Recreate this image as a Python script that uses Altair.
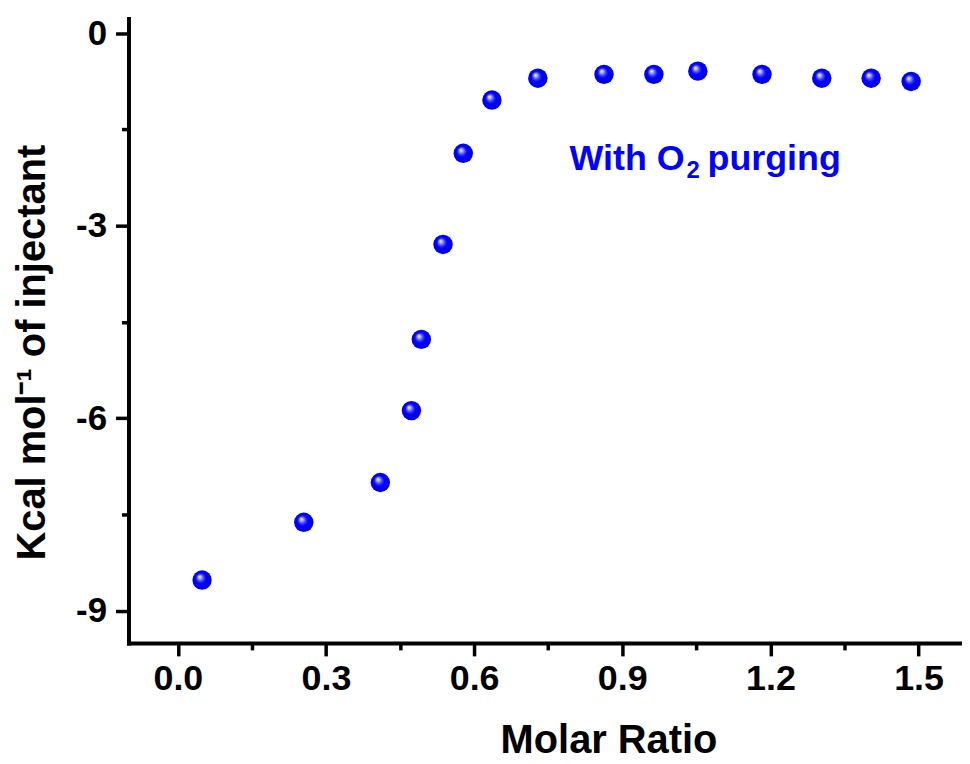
import altair as alt
import pandas as pd

# ---- data ----
molar_ratio = [0.049, 0.255, 0.410, 0.473, 0.493, 0.537, 0.578, 0.636,
               0.729, 0.863, 0.964, 1.053, 1.183, 1.304, 1.404, 1.485]
kcal = [-8.52, -7.62, -7.00, -5.88, -4.77, -3.29, -1.87, -1.04,
        -0.70, -0.64, -0.64, -0.59, -0.64, -0.70, -0.70, -0.75]

x_ticks = [0.0, 0.15, 0.3, 0.45, 0.6, 0.75, 0.9, 1.05, 1.2, 1.35, 1.5]
y_ticks = [-9.0, -7.5, -6.0, -4.5, -3.0, -1.5, 0.0]

annot_text = ["With O", "2", "purging"]
annot_x = [1.0, 1.0, 1.0]
annot_y = [-2.1, -2.1, -2.1]

FONT = "Liberation Sans"

df = pd.DataFrame({"x": molar_ratio, "y": kcal})

xscale = alt.Scale(domain=[-0.1, 1.588], nice=False, zero=False)
yscale = alt.Scale(domain=[-9.5, 0.23], nice=False, zero=False)

xaxis = alt.Axis(
    values=x_ticks,
    labelExpr="round(datum.value/0.15) % 2 == 0 ? format(datum.value, '.1f') : ''",
    tickSize={"condition": {"test": "round(datum.value/0.15) % 2 == 0", "value": 13}, "value": 7},
    labelPadding=6,
    labelFlush=False,
    labelOverlap=False,
    labelFontSize=36,
    title="Molar Ratio",
    titleX=482, titleY=110, titleAlign="center", titleBaseline="alphabetic",
    titleFontSize=40,
)
yaxis = alt.Axis(
    values=y_ticks,
    labelExpr="round(datum.value/1.5) % 2 == 0 ? (datum.value < 0 ? '-' + format(abs(datum.value), 'd') : '0') : ''",
    tickSize={"condition": {"test": "round(datum.value/1.5) % 2 == 0", "value": 13}, "value": 7},
    labelPadding=9,
    labelFlush=False,
    labelOverlap=False,
    labelBaseline="middle",
    labelFontSize=35,
    title="Kcal mol\u207b\u00b9 of injectant",
    titleAngle=270, titleX=-84, titleY=335, titleAlign="center", titleBaseline="alphabetic",
    titleFontSize=40,
)

sphere = alt.RadialGradient(
    gradient="radial",
    stops=[
        alt.GradientStop(color="#ffffff", offset=0.0),
        alt.GradientStop(color="#c8c8ff", offset=0.12),
        alt.GradientStop(color="#3a3aff", offset=0.38),
        alt.GradientStop(color="#0000ff", offset=0.55),
        alt.GradientStop(color="#0000e8", offset=1.0),
    ],
    x1=0.36, y1=0.32, r1=0.0,
    x2=0.5, y2=0.5, r2=0.5,
)

points = alt.Chart(df).mark_point(
    shape="circle", filled=True, fill=sphere, size=380, opacity=1, strokeWidth=0
).encode(
    x=alt.X("x:Q", scale=xscale, axis=xaxis),
    y=alt.Y("y:Q", scale=yscale, axis=yaxis),
)

ann = pd.DataFrame({"t": annot_text, "x": annot_x, "y": annot_y})

def part(i, dx, dy, size, align):
    return alt.Chart(ann.iloc[[i]]).mark_text(
        font=FONT, fontWeight="bold", fontSize=size, color="#0000ff",
        align=align, baseline="alphabetic", dx=dx, dy=dy,
    ).encode(
        x=alt.X("x:Q", scale=xscale),
        y=alt.Y("y:Q", scale=yscale),
        text="t:N",
    )

chart = alt.layer(
    points,
    part(0, 13, 2, 36, "right"),
    part(1, 15, 10, 24, "left"),
    part(2, 36, 2, 36, "left"),
).properties(
    width=837, height=627,
    autosize=alt.AutoSizeParams(type="none"),
    padding={"left": 121, "top": 9, "right": 0, "bottom": 120},
).configure_view(stroke=None).configure_axis(
    grid=False,
    domainColor="black", domainWidth=4, domainCap="square",
    tickColor="black", tickWidth=3.5,
    labelFont=FONT, labelFontWeight="bold", labelColor="black",
    titleFont=FONT, titleFontWeight="bold", titleColor="black",
)

chart.save("out.html", embed_options={"renderer": "svg", "actions": False})
